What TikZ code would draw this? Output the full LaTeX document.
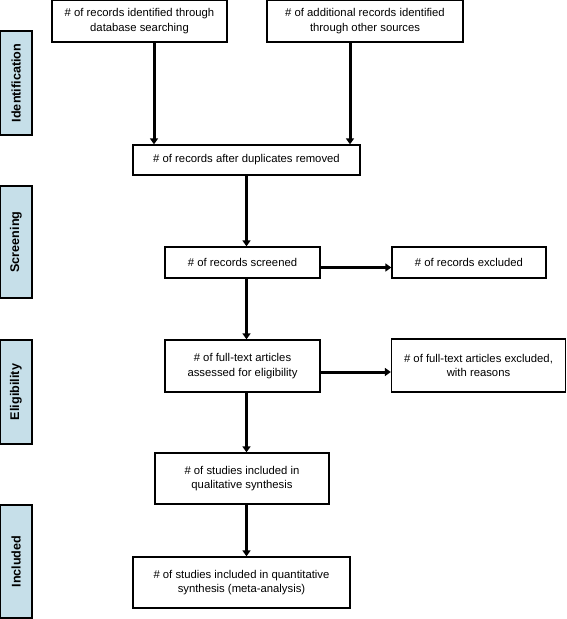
\documentclass[tikz,border=0pt]{standalone}
\usepackage{fontspec}
\setmainfont{Liberation Sans}
\usetikzlibrary{arrows.meta}
\definecolor{phaseblue}{RGB}{198,223,233}
\begin{document}
\begin{tikzpicture}
        [
            x = 1pt, y = -1pt,
            box/.style = {draw, line width = 1.3pt, fill = white, align = center, inner sep = 0pt, font = \fontsize{11.3}{14.5}\selectfont},
            phase/.style = {draw, line width = 1.3pt, fill = phaseblue, minimum height = 32pt, inner sep = 0pt, rotate = 90, font = \fontsize{12.6}{14}\selectfont\bfseries},
            flow/.style = {line width = 3pt, -{Triangle[length = 6pt, width = 8pt]}}
        ]
            \useasboundingbox (0,0) rectangle (567,619);
            \node [phase, minimum width = 104pt] (identification) at (16,83) {Identification};
            \node [phase, minimum width = 112pt] (screening) at (16,242) {Screening};
            \node [phase, minimum width = 104pt] (eligibility) at (16,392) {Eligibility};
            \node [phase, minimum width = 113pt] (included) at (16,561.5) {Included};
            \node [box, minimum width = 175pt, minimum height = 42pt] (database) at (139.5,21) {\# of records identified through\\database searching};
            \node [box, minimum width = 196pt, minimum height = 42pt] (other) at (365,21) {\# of additional records identified\\through other sources};
            \node [box, minimum width = 227pt, minimum height = 30pt] (duplicates) at (246.5,160) {\# of records after duplicates removed};
            \node [box, minimum width = 155pt, minimum height = 31pt] (screened) at (242.5,262.5) {\# of records screened};
            \node [box, minimum width = 154pt, minimum height = 31pt] (excluded) at (469,262.5) {\# of records excluded};
            \node [box, minimum width = 155pt, minimum height = 52pt] (fulltext) at (242.5,366) {\# of full-text articles\\assessed for eligibility};
            \node [box, minimum width = 174pt, minimum height = 53pt] (fulltextexcl) at (478.5,365.5) {\# of full-text articles excluded,\\with reasons};
            \node [box, minimum width = 174pt, minimum height = 51pt] (qualitative) at (242,478.5) {\# of studies included in\\qualitative synthesis};
            \node [box, minimum width = 217pt, minimum height = 51pt] (quantitative) at (241.5,582.5) {\# of studies included in quantitative\\synthesis (meta-analysis)};
            \draw [flow] ([xshift = 14.5pt]database.south) -- ([xshift = 14.5pt]database.south |- duplicates.north);
            \draw [flow] ([xshift = -15pt]other.south) -- ([xshift = -15pt]other.south |- duplicates.north);
            \draw [flow] (duplicates.south) -- (duplicates.south |- screened.north);
            \draw [flow] (duplicates.south |- screened.south) -- (duplicates.south |- fulltext.north);
            \draw [flow] (duplicates.south |- fulltext.south) -- (duplicates.south |- qualitative.north);
            \draw [flow] (duplicates.south |- qualitative.south) -- (duplicates.south |- quantitative.north);
            \draw [flow] ([yshift = -5pt]screened.east) -- ([yshift = -5pt]excluded.west);
            \draw [flow] ([yshift = -6pt]fulltext.east) -- ([yshift = -6pt]fulltext.east -| fulltextexcl.west);
        \end{tikzpicture}
\end{document}
